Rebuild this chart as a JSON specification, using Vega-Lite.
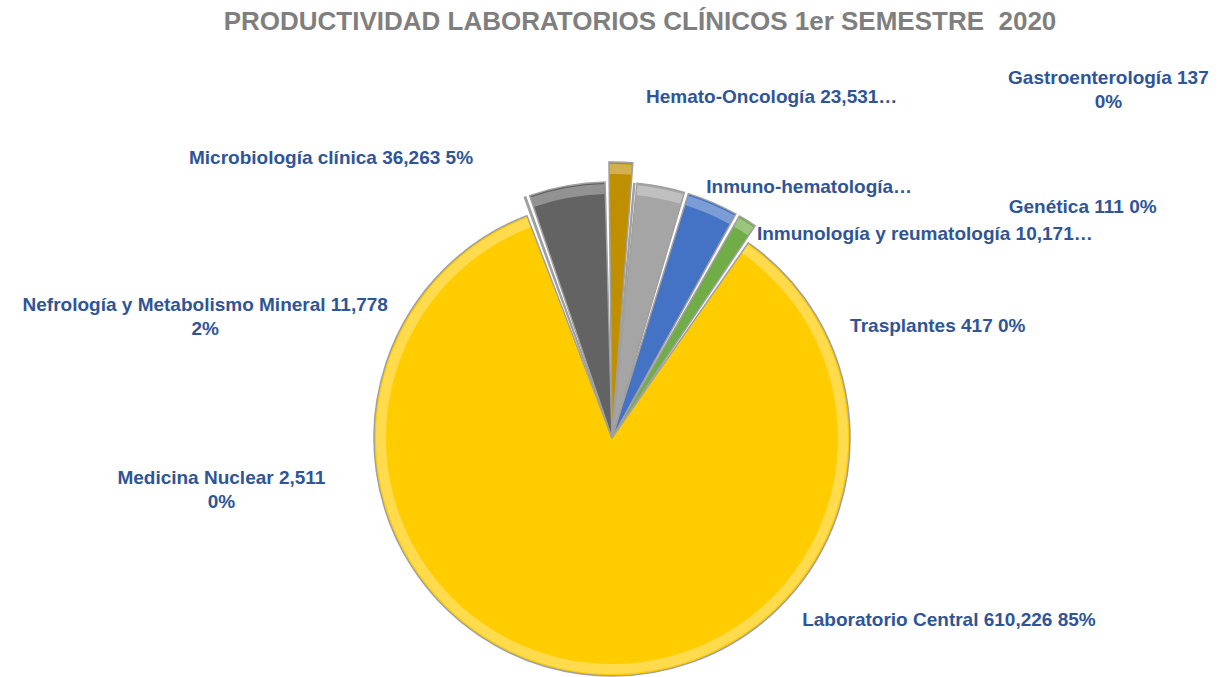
{
  "$schema": "https://vega.github.io/schema/vega-lite/v6.json",
  "autosize": "none",
  "width": 1224,
  "height": 478,
  "padding": {"top": 199, "left": 0, "right": 0, "bottom": 0},
  "background": "white",
  "config": {"view": {"stroke": null}},
  "title": {
    "text": "PRODUCTIVIDAD LABORATORIOS CLÍNICOS 1er SEMESTRE \u00a02020",
    "anchor": "middle",
    "frame": "group",
    "dx": 28,
    "offset": 13,
    "baseline": "alphabetic",
    "font": "Liberation Sans",
    "fontSize": 26,
    "fontWeight": "bold",
    "color": "#7F7F7F"
  },
  "data": {
    "values": [
      {"name": "Gastroenterología", "value": 137, "label": "Gastroenterología 137\n0%"},
      {"name": "Genética", "value": 111, "label": "Genética 111 0%"},
      {"name": "Hemato-Oncología", "value": 23531, "label": "Hemato-Oncología 23,531…"},
      {"name": "Inmuno-hematología", "value": 25000, "label": "Inmuno-hematología…"},
      {"name": "Inmunología y reumatología", "value": 10171, "label": "Inmunología y reumatología 10,171…"},
      {"name": "Laboratorio Central", "value": 610226, "label": "Laboratorio Central 610,226 85%"},
      {"name": "Medicina Nuclear", "value": 2511, "label": "Medicina Nuclear 2,511\n0%"},
      {"name": "Microbiología clínica", "value": 36263, "label": "Microbiología clínica 36,263 5%"},
      {"name": "Nefrología y Metabolismo Mineral", "value": 11778, "label": "Nefrología y Metabolismo Mineral 11,778\n2%"},
      {"name": "Trasplantes", "value": 417, "label": "Trasplantes 417 0%"}
    ]
  },
  "encoding": {
    "theta": {"field": "value", "type": "quantitative", "stack": true, "scale": {"range": [0.0873, 6.3705]}}
  },
  "layer": [
    {
      "mark": {
        "type": "arc",
        "radius": {"expr": "datum.name === 'Laboratorio Central' ? 238 : datum.name === 'Nefrología y Metabolismo Mineral' ? 276 : 256"},
        "padAngle": 0.016,
        "stroke": "#a0a0a0",
        "strokeWidth": 1.5
      },
      "encoding": {
        "color": {
          "field": "name",
          "type": "nominal",
          "legend": null,
          "scale": {
            "domain": ["Gastroenterología", "Genética", "Hemato-Oncología", "Inmuno-hematología", "Inmunología y reumatología", "Laboratorio Central", "Medicina Nuclear", "Microbiología clínica", "Nefrología y Metabolismo Mineral", "Trasplantes"],
            "range": ["#7F6000", "#264478", "#A5A5A5", "#4472C4", "#70AD47", "#FFCC00", "#EDEDED", "#636363", "#BF8F00", "#9E480E"]
          }
        }
      }
    },
    {
      "mark": {
        "type": "arc",
        "radius": {"expr": "(datum.name === 'Laboratorio Central' ? 238 : datum.name === 'Nefrología y Metabolismo Mineral' ? 276 : 256) - 2"},
        "radius2": {"expr": "(datum.name === 'Laboratorio Central' ? 238 : datum.name === 'Nefrología y Metabolismo Mineral' ? 276 : 256) - 12"},
        "padAngle": 0.016,
        "fill": "white",
        "opacity": 0.3
      },
      "encoding": {"detail": {"field": "name", "type": "nominal"}}
    },
    {
      "mark": {
        "type": "text",
        "radius": 255,
        "font": "Liberation Sans",
        "fontSize": 19,
        "fontWeight": "bold",
        "fill": "#2F5597",
        "align": "center",
        "baseline": "middle",
        "lineBreak": "\n",
        "lineHeight": 24,
        "dx": {"expr": "datum.name === 'Gastroenterología' ? 474 : datum.name === 'Genética' ? 448 : datum.name === 'Hemato-Oncología' ? 111 : datum.name === 'Inmuno-hematología' ? 97 : datum.name === 'Inmunología y reumatología' ? 178 : datum.name === 'Laboratorio Central' ? 368 : datum.name === 'Medicina Nuclear' ? -304 : datum.name === 'Microbiología clínica' ? -236 : datum.name === 'Nefrología y Metabolismo Mineral' ? -415 : 304"},
        "dy": {"expr": "datum.name === 'Gastroenterología' ? -106 : datum.name === 'Genética' ? 23 : datum.name === 'Hemato-Oncología' ? -91 : datum.name === 'Inmuno-hematología' ? -17 : datum.name === 'Inmunología y reumatología' ? 12 : datum.name === 'Laboratorio Central' ? -71 : datum.name === 'Medicina Nuclear' ? 280 : datum.name === 'Microbiología clínica' ? -29 : datum.name === 'Nefrología y Metabolismo Mineral' ? 122 : 142"}
      },
      "encoding": {
        "detail": {"field": "name", "type": "nominal"},
        "text": {"field": "label", "type": "nominal"}
      }
    }
  ]
}
